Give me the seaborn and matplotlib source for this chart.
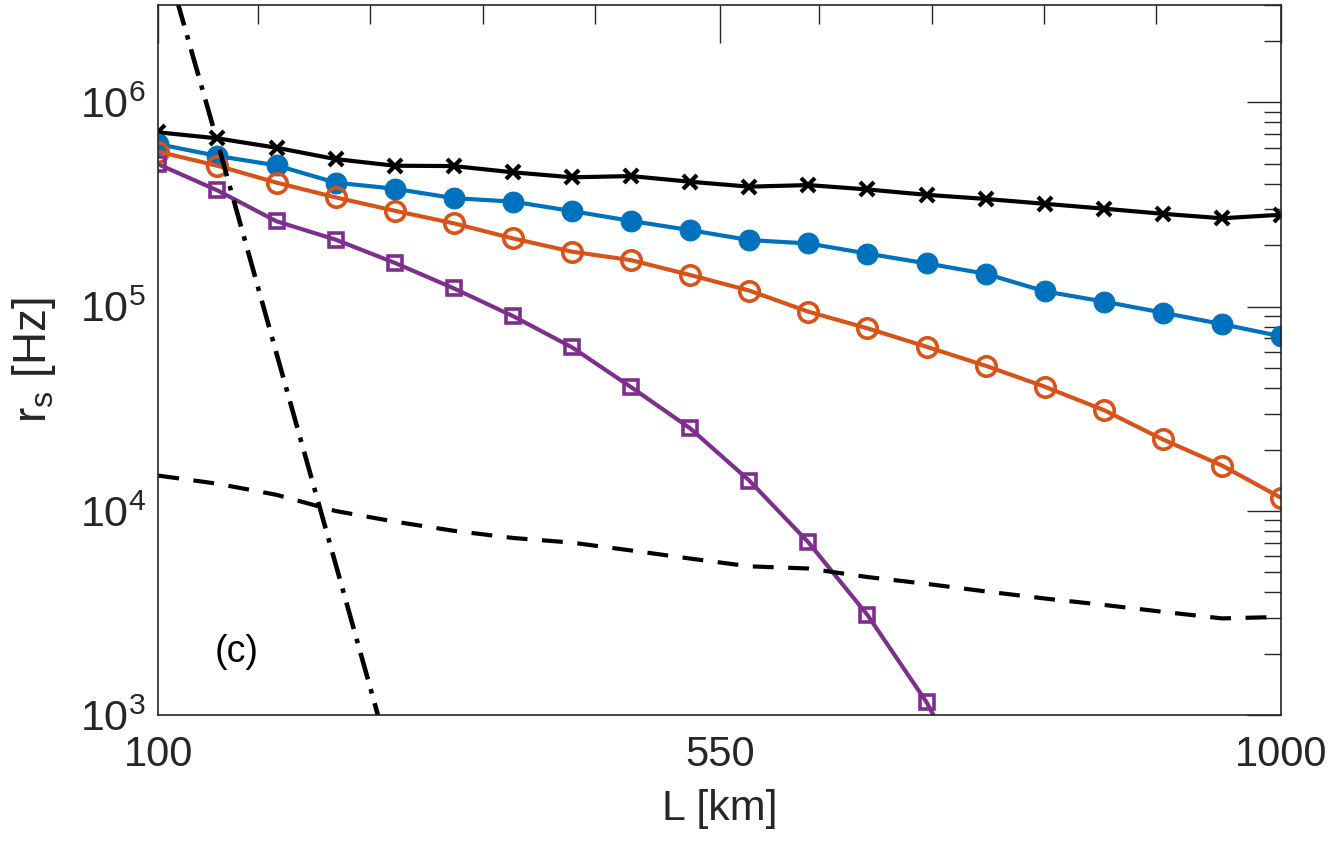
import numpy as np
import seaborn as sns
import matplotlib
matplotlib.use("Agg")
import matplotlib.pyplot as plt
from matplotlib.ticker import FixedLocator, LogLocator, NullFormatter, FuncFormatter

# data
L_km = np.linspace(100, 1000, 20)
rs_black = [7.14e5, 6.67e5, 6.00e5, 5.28e5, 4.90e5, 4.88e5, 4.55e5, 4.30e5, 4.36e5, 4.09e5,
            3.87e5, 3.94e5, 3.75e5, 3.53e5, 3.37e5, 3.19e5, 3.02e5, 2.85e5, 2.71e5, 2.82e5]
rs_blue = [6.25e5, 5.47e5, 4.92e5, 4.05e5, 3.78e5, 3.40e5, 3.27e5, 2.94e5, 2.63e5, 2.37e5,
           2.12e5, 2.04e5, 1.82e5, 1.63e5, 1.45e5, 1.19e5, 1.06e5, 9.35e4, 8.22e4, 7.16e4]
rs_orange = [5.74e5, 4.90e5, 4.05e5, 3.43e5, 2.95e5, 2.56e5, 2.16e5, 1.86e5, 1.69e5, 1.43e5,
             1.20e5, 9.46e4, 7.84e4, 6.37e4, 5.14e4, 4.06e4, 3.12e4, 2.24e4, 1.67e4, 1.16e4]
rs_purple = [4.98e5, 3.71e5, 2.62e5, 2.13e5, 1.64e5, 1.23e5, 9.0e4, 6.33e4, 4.04e4, 2.54e4,
             1.41e4, 7.03e3, 3.10e3, 1.16e3, 3.3e2]
rs_dashed = [1.49e4, 1.36e4, 1.20e4, 1.00e4, 8.87e3, 8.00e3, 7.38e3, 7.00e3, 6.41e3, 5.85e3,
             5.36e3, 5.23e3, 4.75e3, 4.40e3, 4.04e3, 3.73e3, 3.47e3, 3.21e3, 2.98e3, 3.03e3]
rs_dashdot = [6.6e6, 6.4e5, 5.9e4, 5.5e3, 5.1e2]

x_major = [100, 550, 1000]
x_minor = [180, 270, 360, 450, 630, 720, 810, 900]

sns.set_style("white")
plt.rcParams['font.family'] = ['Liberation Sans', 'DejaVu Sans']
plt.rcParams['mathtext.fontset'] = 'custom'
plt.rcParams['mathtext.rm'] = 'Liberation Sans'
plt.rcParams['mathtext.it'] = 'Liberation Sans:italic'
plt.rcParams['mathtext.bf'] = 'Liberation Sans:bold'

txt = '#262626'
c_blue, c_orange, c_purple = '#0072BD', '#D95319', '#7E2F8E'

fig = plt.figure(figsize=(13.34, 8.42), dpi=100)
ax = fig.add_axes([0.1187, 0.1505, 0.8416, 0.8436])

LW = 3.0


def add_line(x, y, color, **style):
    sns.lineplot(x=x, y=y, color=color, ax=ax)
    ln = ax.lines[-1]
    ln.set_linewidth(LW)
    ln.set_color(color)
    for k, v in style.items():
        getattr(ln, 'set_' + k)(v)
    return ln


add_line(L_km, rs_black, 'black', marker='x', markersize=10.5, markeredgewidth=3.0,
         markeredgecolor='black')
add_line(L_km, rs_blue, c_blue, marker='o', markersize=15, markeredgecolor=c_blue,
         markerfacecolor=c_blue)
add_line(L_km, rs_orange, c_orange, marker='o', markersize=14, markeredgecolor=c_orange,
         markerfacecolor='none', markeredgewidth=2.6)
add_line(L_km[:len(rs_purple)], rs_purple, c_purple, marker='s', markersize=10,
         markeredgecolor=c_purple, markerfacecolor='none', markeredgewidth=2.6)
add_line(L_km, rs_dashed, 'black', dashes=(5, 3.5))
add_line(L_km[:len(rs_dashdot)], rs_dashdot, 'black', linewidth=3.3, dashes=(6, 2.2, 1.0, 2.2))

ax.set_yscale('log')
ax.set_xlim(100, 1000)
ax.set_ylim(1e3, 3e6)

ax.xaxis.set_major_locator(FixedLocator(x_major))
ax.xaxis.set_minor_locator(FixedLocator(x_minor))
ax.yaxis.set_major_locator(LogLocator(base=10, numticks=10))
ax.yaxis.set_minor_locator(LogLocator(base=10, subs=range(2, 10), numticks=20))
ax.yaxis.set_minor_formatter(NullFormatter())
ax.yaxis.set_major_formatter(FuncFormatter(lambda v, p: r'$\mathregular{10^{%d}}$' % round(np.log10(v))))

ax.tick_params(which='both', direction='in', top=True, right=True, colors=txt, width=1.0)
ax.tick_params(axis='x', which='major', length=27, labelsize=30, pad=14)
ax.tick_params(axis='x', which='minor', length=13.5)
ax.tick_params(axis='y', which='major', length=24.5, labelsize=31, pad=9)
ax.tick_params(axis='y', which='minor', length=12.2)
for s in ax.spines.values():
    s.set_color(txt)
    s.set_linewidth(1.2)

ax.set_xlabel('L [km]', fontsize=31, color=txt, labelpad=10)
ax.set_ylabel(r'r$_\mathregular{s}$ [Hz]', fontsize=33, color=txt, labelpad=16)

ax.text(145.5, 2.04e3, '(c)', fontsize=27, color='black', ha='left', va='center')

plt.savefig('out.png', dpi=100)
